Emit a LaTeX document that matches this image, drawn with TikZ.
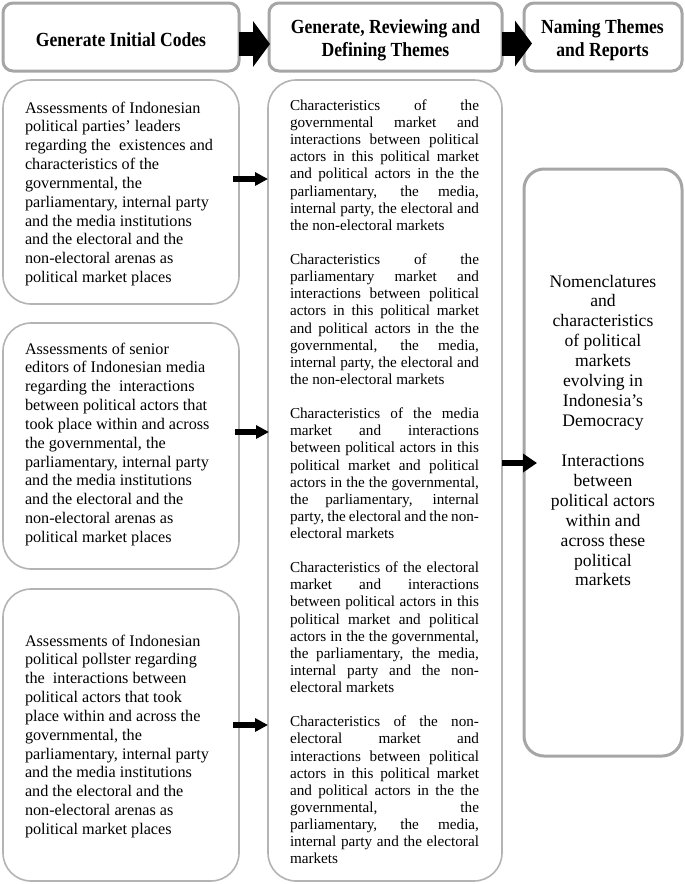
\documentclass[tikz,border=0pt]{standalone}
\usepackage{fontspec}
\setmainfont{Liberation Serif}
\newfontfamily\hdfont[FakeStretch=0.88]{Liberation Serif}
\usetikzlibrary{arrows.meta,calc}
\definecolor{hgray}{HTML}{A6A6A6}
\definecolor{lgray}{HTML}{B4B4B4}
\newcommand\jl[1]{\makebox[189pt][s]{#1}\\}
\newcommand\lftfont{\fontsize{16.2}{18.85}\selectfont\raggedright}
\newcommand\midfont{\fontsize{15.2}{17.12}\selectfont}
\newcommand\rgtfont{\fontsize{17.6}{19.93}\selectfont\centering}
\newcommand\hdrfont{\hdfont\bfseries\fontsize{20}{22.5}\selectfont}
\begin{document}
\begin{tikzpicture}[x=1pt,y=-1pt,
  hbox/.style={draw=hgray, line width=3pt, rounded corners=10pt, inner sep=0pt, outer sep=0pt},
  lbox/.style={draw=lgray, line width=1.6pt, rounded corners=28pt, inner sep=0pt, outer sep=0pt},
  rbox/.style={draw=hgray, line width=3pt, rounded corners=20pt, inner sep=0pt, outer sep=0pt},
  txt/.style={inner sep=0pt, outer sep=0pt},
  bigarrow/.style={line width=24pt, -{Triangle[length=17pt,width=45pt]}},
  smarrow/.style={line width=5.5pt, -{Triangle[length=13pt,width=13pt]}}]
\useasboundingbox (0,0) rectangle (685,884);
\fill[white] (0,0) rectangle (685,884);

% header boxes
\node[hbox, minimum width=236pt, minimum height=68pt] (h1) at (121,37) {};
\node[hbox, minimum width=233pt, minimum height=68pt] (h2) at (385.5,37) {};
\node[hbox, minimum width=158pt, minimum height=68pt] (h3) at (603,37) {};
\node[txt, anchor=base] (h1t) at (121,46.7) {\hdrfont Generate Initial Codes};
\node[txt, anchor=base] (h2t) at (385.5,33.5) {\parbox[t]{225pt}{\hdrfont\centering Generate, Reviewing and\\Defining Themes}};
\node[txt, anchor=base] (h3t) at (602.5,33.5) {\parbox[t]{150pt}{\hdrfont\centering Naming Themes\\and Reports}};

% body boxes
\node[lbox, minimum width=236pt, minimum height=224pt] (a) at (121,192) {};
\node[lbox, minimum width=236pt, minimum height=246pt] (b) at (121,446) {};
\node[lbox, minimum width=236pt, minimum height=292pt] (c) at (121,735) {};
\node[lbox, minimum width=234pt, minimum height=801pt] (m) at (385,480.5) {};
\node[rbox, minimum width=158pt, minimum height=587pt] (r) at (603,462.5) {};

% header arrows
\draw[bigarrow] ($(h1.east)+(0,7)$) -- ($(h2.west)+(1,7)$);
\draw[bigarrow] ($(h2.east)+(0,6.5)$) -- ($(h3.west)+(8,6.5)$);

% texts
\node[txt, anchor=base west] (at) at (25,113) {\parbox[t]{215pt}{\lftfont
Assessments of Indonesian\\
political parties’ leaders\\
regarding the~ existences and\\
characteristics of the\\
governmental, the\\
parliamentary, internal party\\
and the media institutions\\
and the electoral and the\\
non-electoral arenas as\\
political market places}};

\node[txt, anchor=base west] (bt) at (25,354) {\parbox[t]{215pt}{\lftfont
Assessments of senior\\
editors of Indonesian media\\
regarding the~ interactions\\
between political actors that\\
took place within and across\\
the governmental, the\\
parliamentary, internal party\\
and the media institutions\\
and the electoral and the\\
non-electoral arenas as\\
political market places}};

\node[txt, anchor=base west] (ct) at (25,646) {\parbox[t]{215pt}{\lftfont
Assessments of Indonesian\\
political pollster regarding\\
the~ interactions between\\
political actors that took\\
place within and across the\\
governmental, the\\
parliamentary, internal party\\
and the media institutions\\
and the electoral and the\\
non-electoral arenas as\\
political market places}};

\node[txt, anchor=base west] (mt) at (290,110.5) {\parbox[t]{189pt}{\midfont
\jl{Characteristics of the}
\jl{governmental market and}
\jl{interactions between political}
\jl{actors in this political market}
\jl{and political actors in the the}
\jl{parliamentary, the media,}
\jl{internal party, the electoral and}
the non-electoral markets\\[17.12pt]
\jl{Characteristics of the}
\jl{parliamentary market and}
\jl{interactions between political}
\jl{actors in this political market}
\jl{and political actors in the the}
\jl{governmental, the media,}
\jl{internal party, the electoral and}
the non-electoral markets\\[17.12pt]
\jl{Characteristics of the media}
\jl{market and interactions}
\jl{between political actors in this}
\jl{political market and political}
\jl{actors in the the governmental,}
\jl{the parliamentary, internal}
\jl{party, the electoral and the non-}
electoral markets\\[17.12pt]
\jl{Characteristics of the electoral}
\jl{market and interactions}
\jl{between political actors in this}
\jl{political market and political}
\jl{actors in the the governmental,}
\jl{the parliamentary, the media,}
\jl{internal party and the non-}
electoral markets\\[17.12pt]
\jl{Characteristics of the non-}
\jl{electoral market and}
\jl{interactions between political}
\jl{actors in this political market}
\jl{and political actors in the the}
\jl{governmental, the}
\jl{parliamentary, the media,}
\jl{internal party and the electoral}
markets}};

\node[txt, anchor=base] (rt) at (603,287) {\parbox[t]{150pt}{\rgtfont
Nomenclatures\\
and\\
characteristics\\
of political\\
markets\\
evolving in\\
Indonesia’s\\
Democracy\\[19.93pt]
Interactions\\
between\\
political actors\\
within and\\
across these\\
political\\
markets}};

% body arrows
\draw[smarrow] ($(a.east)+(-6,-13)$) -- ($(a.east -| m.west)+(0,-13)$);
\draw[smarrow] ($(b.east)+(-4,-14)$) -- ($(b.east -| m.west)+(1,-14)$);
\draw[smarrow] ($(c.east)+(-6,-10)$) -- ($(c.east -| m.west)+(0,-10)$);
\draw[line width=6pt, -{Triangle[length=14pt,width=18pt]}] ($(m.east)+(0,-17.5)$) -- ($(m.east -| r.west)+(13,-17.5)$);
\end{tikzpicture}
\end{document}
